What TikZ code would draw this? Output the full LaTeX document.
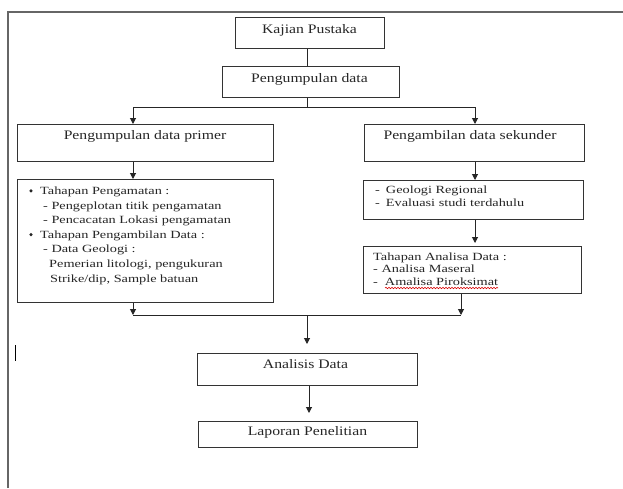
\documentclass[tikz,border=0pt]{standalone}
\usepackage{fontspec}
\setmainfont{Liberation Serif}
\newfontfamily\mainf[FakeStretch=1.21]{Liberation Serif}
\newfontfamily\detf[FakeStretch=1.3]{Liberation Serif}
\usetikzlibrary{arrows.meta,decorations.pathmorphing}
\tikzset{
  box/.style={draw=black!80, line width=1.1pt, inner sep=0pt, anchor=north west},
  maintext/.style={inner sep=0pt, anchor=base, text=black!85, font=\mainf\fontsize{13}{15}\selectfont},
  dettext/.style={inner sep=0pt, anchor=base west, text=black!85, font=\detf\fontsize{11}{12.5}\selectfont},
  bul/.style={circle, fill=black!85, inner sep=0pt, minimum size=3.4pt},
  conn/.style={draw=black!85, line width=1pt},
  arr/.style={conn, -{Triangle[width=6pt,length=6pt]}},
  frame/.style={draw=black!60, line width=1.3pt}
}
\begin{document}
\begin{tikzpicture}[x=1pt,y=-1pt]
\useasboundingbox (0,0) rectangle (623,488);
\fill[white] (0,0) rectangle (623,488);
% outer frame
\draw[frame] (8,488) -- (8,12) -- (630,12);
% cursor mark
\draw[black, line width=1pt] (15,345) -- (15,361);

% boxes
\node[box, minimum width=149pt, minimum height=31pt] (kaj) at (235,17) {};
\node[box, minimum width=177pt, minimum height=31pt] (peng) at (222,66) {};
\node[box, minimum width=256pt, minimum height=37pt] (lp) at (17,124) {};
\node[box, minimum width=220pt, minimum height=37pt] (rp) at (364,124) {};
\node[box, minimum width=256pt, minimum height=123pt] (ld) at (17,179) {};
\node[box, minimum width=220pt, minimum height=39pt] (rd) at (363,180) {};
\node[box, minimum width=218pt, minimum height=47pt] (ra) at (363,246) {};
\node[box, minimum width=220pt, minimum height=32pt] (an) at (197,353) {};
\node[box, minimum width=219pt, minimum height=26pt] (la) at (198,421) {};

% main texts
\node[maintext] (tkaj) at (309.5,33.5) {Kajian Pustaka};
\node[maintext] (tpeng) at (309.5,82) {Pengumpulan data};
\node[maintext] (tlp) at (145,139.5) {Pengumpulan data primer};
\node[maintext] (trp) at (470,139.5) {Pengambilan data sekunder};
\node[maintext] (tan) at (305.5,368) {Analisis Data};
\node[maintext] (tla) at (307.5,435.7) {Laporan Penelitian};

% left detail text
\node[bul] (b1) at (31,190.8) {};
\node[dettext] (l1) at (40,194.5) {Tahapan Pengamatan :};
\node[dettext] (l2) at (43,209.1) {- Pengeplotan titik pengamatan};
\node[dettext] (l3) at (43,223.7) {- Pencacatan Lokasi pengamatan};
\node[bul] (b2) at (31,234.6) {};
\node[dettext] (l4) at (40,238.3) {Tahapan Pengambilan Data :};
\node[dettext] (l5) at (43,252.9) {- Data Geologi :};
\node[dettext] (l6) at (49,267.5) {Pemerian litologi, pengukuran};
\node[dettext] (l7) at (50,282.1) {Strike/dip, Sample batuan};

% right detail text
\node[dettext] (r1) at (375,193) {-\hspace{6pt}Geologi Regional};
\node[dettext] (r2) at (375,206.7) {-\hspace{6pt}Evaluasi studi terdahulu};
\node[dettext] (r3) at (373,260.5) {Tahapan Analisa Data :};
\node[dettext] (r4) at (373,272.7) {- Analisa Maseral};
\node[dettext] (r5) at (373,285) {-\hspace{7pt}Amalisa Piroksimat};
\draw[red!85!black, line width=0.6pt, decorate, decoration={snake, amplitude=0.7pt, segment length=3pt}] (385,288) -- (498,288);

% junction coordinates
\coordinate (cA) at (307,107);
\coordinate (cL) at (133,107);
\coordinate (cR) at (475,107);
\coordinate (cBL) at (133,315);
\coordinate (cBR) at (461,315);
\coordinate (cB) at (307,316);
\coordinate (cC) at (309,400);

% connectors
\draw[conn] (cA |- kaj.south) -- (cA |- peng.north);
\draw[conn] (cA |- peng.south) -- (cA);
\draw[conn] (cL) -- (cR);
\draw[arr] (cL) -- (cL |- lp.north);
\draw[arr] (cR) -- (cR |- rp.north);
\draw[arr] (cL |- lp.south) -- (cL |- ld.north);
\draw[arr] (cR |- rp.south) -- (cR |- rd.north);
\draw[arr, shorten >=3pt] (cR |- rd.south) -- (cR |- ra.north);
\draw[arr] (cBL |- ld.south) -- (cBL);
\draw[arr] (cBR |- ra.south) -- (cBR);
\draw[conn] (cBL) -- (cBR);
\draw[arr, shorten >=9pt] (cB) -- (cB |- an.north);
\draw[arr, shorten >=8pt] (cC |- an.south) -- (cC |- la.north);
\end{tikzpicture}
\end{document}
